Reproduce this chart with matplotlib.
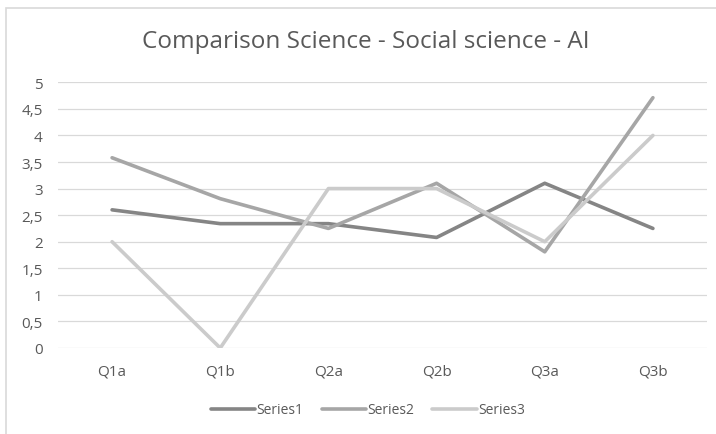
import matplotlib
matplotlib.use("Agg")
import matplotlib.pyplot as plt
from matplotlib.patches import Rectangle
from matplotlib.ticker import FuncFormatter

categories = ["Q1a", "Q1b", "Q2a", "Q2b", "Q3a", "Q3b"]
series1 = [2.6, 2.34, 2.34, 2.08, 3.1, 2.25]
series2 = [3.58, 2.81, 2.25, 3.1, 1.81, 4.71]
series3 = [2.0, 0.0, 3.0, 3.0, 2.0, 4.0]
series_names = ["Series1", "Series2", "Series3"]
colors = ["#858585", "#a6a6a6", "#cbcbcb"]

plt.rcParams['font.family'] = ['Open Sans', 'DejaVu Sans']

fig = plt.figure(figsize=(7.16, 4.35), dpi=100)
fig.patch.set_facecolor("white")
# chart border
fig.patches.append(Rectangle((6/716, -0.05), 1.2, 1 - 9/435 + 0.05, transform=fig.transFigure,
                             fill=False, edgecolor="#d9d9d9", linewidth=1.2))

ax = fig.add_axes([58/716, 1 - 349/435, (707 - 58)/716, (349 - 83.3)/435])
x = list(range(len(categories)))
for vals, name, c in zip([series1, series2, series3], series_names, colors):
    ax.plot(x, vals, color=c, linewidth=2.6, label=name, solid_capstyle="round", solid_joinstyle="round")

ax.set_xlim(-0.5, len(categories) - 0.5)
ax.set_ylim(0, 5)
ax.set_yticks([i * 0.5 for i in range(11)])
ax.yaxis.set_major_formatter(FuncFormatter(lambda v, p: ("%g" % v).replace(".", ",")))
ax.set_xticks(x)
ax.set_xticklabels(categories)
ax.grid(axis="y", color="#d9d9d9", linewidth=0.9)
ax.set_axisbelow(True)
for s in ax.spines.values():
    s.set_visible(False)
ax.tick_params(axis="both", length=0, labelsize=11, labelcolor="#595959")
ax.tick_params(axis="y", pad=11)
ax.tick_params(axis="x", pad=11.4)

fig.text(366/716, 1 - 42/435, "Comparison Science - Social science - AI", ha="center", va="center",
         fontsize=17.5, color="#595959")

leg = fig.legend(loc="center", bbox_to_anchor=(368/716, 1 - 411/435), ncol=3, frameon=False,
                 fontsize=10, handlelength=3.2, handletextpad=0.1, columnspacing=1.3)
for t in leg.get_texts():
    t.set_color("#595959")

fig.savefig("out.png", dpi=100, facecolor="white")
